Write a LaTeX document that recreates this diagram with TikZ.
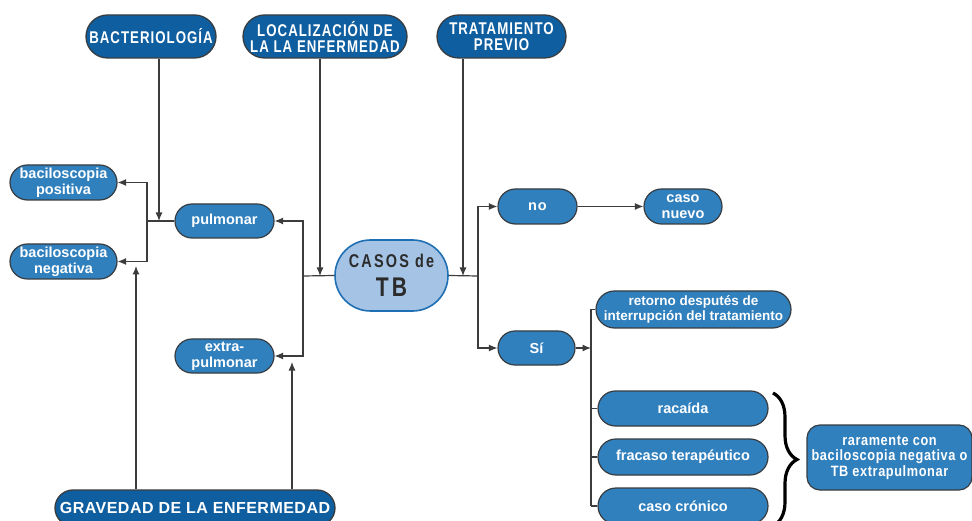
\documentclass[tikz,border=0pt]{standalone}
\usepackage{fontspec}
\setmainfont{Liberation Sans}
\newfontfamily\condf[FakeStretch=0.78,LetterSpace=6]{Liberation Sans}
\newfontfamily\casf[FakeStretch=0.78,LetterSpace=12]{Liberation Sans}
\newfontfamily\widef[LetterSpace=3]{Liberation Sans}
\newfontfamily\medf[FakeStretch=0.85,LetterSpace=4]{Liberation Sans}
\usetikzlibrary{shapes.misc,arrows.meta,decorations.pathreplacing}
\definecolor{dkblue}{RGB}{15,95,160}
\definecolor{mdblue}{RGB}{48,128,190}
\definecolor{ltblue}{RGB}{165,195,228}
\definecolor{casbord}{RGB}{31,111,181}
\definecolor{bord}{RGB}{55,60,65}
\definecolor{lineg}{RGB}{60,60,60}
\definecolor{castext}{RGB}{43,43,43}
\tikzset{
  dk/.style={rounded rectangle, draw=bord, line width=1.3pt, fill=dkblue, text=white,
    inner sep=0pt, align=center, font=\condf\bfseries\fontsize{17}{16}\selectfont},
  md/.style={rounded rectangle, draw=bord, line width=1.2pt, fill=mdblue, text=white,
    inner sep=0pt, align=center, font=\bfseries\fontsize{14.5}{16}\selectfont},
  arr/.style={draw=lineg, line width=1.2pt, -{Latex[length=8.5pt,width=7pt]}},
  ln/.style={draw=lineg, line width=1.2pt},
}
\begin{document}
\begin{tikzpicture}[x=1pt,y=-1pt]
\useasboundingbox[fill=white] (0,0) rectangle (972,521);
% top nodes
\node[dk, minimum width=130pt, minimum height=43pt] (bact) at (151,36.5) {BACTERIOLOGÍA};
\node[dk, minimum width=164pt, minimum height=43pt] (loc) at (325,36.5) {LOCALIZACIÓN DE\\LA LA ENFERMEDAD};
\node[dk, minimum width=129pt, minimum height=43pt] (trat) at (501.5,36.5) {TRATAMIENTO\\PREVIO};
% left nodes
\node[md, minimum width=107pt, minimum height=35pt] (bpos) at (63.5,182.5) {baciloscopia\\positiva};
\node[md, minimum width=107pt, minimum height=35pt] (bneg) at (63.5,261.5) {baciloscopia\\negativa};
\node[md, minimum width=99pt, minimum height=34pt] (pulm) at (224.5,221) {pulmonar};
\node[md, minimum width=99pt, minimum height=34pt] (extra) at (224.5,356) {extra-\\pulmonar};
% center
\node[rounded rectangle, draw=casbord, line width=1.6pt, fill=ltblue, text=castext,
  inner sep=0pt, align=center, minimum width=113pt, minimum height=71pt,
  font=\casf\bfseries\fontsize{18.5}{20}\selectfont] (casos) at (391.5,275.5)
  {CASOS de\\[9pt]{\casf\bfseries\fontsize{27}{24}\selectfont T\kern3pt B}};
% right nodes
\node[md, minimum width=79pt, minimum height=35pt] (no) at (537.5,206.5) {n\kern1pt o};
\node[md, minimum width=78pt, minimum height=35pt] (nuevo) at (683,206.5) {caso\\nuevo};
\node[md, minimum width=77pt, minimum height=34pt] (si) at (536.5,348) {Sí};
\node[md, minimum width=195pt, minimum height=37pt, font=\bfseries\fontsize{13.5}{15}\selectfont] (ret) at (693.5,309.5) {retorno desputés de\\interrupción del tratamiento};
\node[md, minimum width=170pt, minimum height=35pt] (rec) at (683,408.5) {racaída};
\node[md, minimum width=170pt, minimum height=36pt] (frac) at (683,457) {fracaso terapéutico};
\node[md, minimum width=170pt, minimum height=36pt] (cron) at (683,506) {caso crónico};
\node[rectangle, rounded corners=13pt, draw=bord, line width=1.2pt, fill=mdblue, text=white,
  inner sep=0pt, align=center, minimum width=165pt, minimum height=65pt,
  font=\medf\bfseries\fontsize{15}{15.5}\selectfont] (rar) at (889.5,457.5)
  {raramente con\\baciloscopia negativa o\\TB extrapulmonar};
% bottom
\node[rounded rectangle, draw=bord, line width=1.3pt, fill=dkblue, text=white, inner sep=0pt,
  minimum width=280pt, minimum height=36pt, font=\widef\bfseries\fontsize{16}{16}\selectfont]
  (grav) at (195,508) {GRAVEDAD DE LA ENFERMEDAD};
% junction coordinates
\coordinate (jL) at (147,221);
\coordinate (bx) at (159,221);
\coordinate (jC) at (303,276);
\coordinate (lx) at (320,276);
\coordinate (tx) at (463,276);
\coordinate (jR) at (478,276);
\coordinate (sx) at (591,348);
\coordinate (g1) at (136,266);
\coordinate (g2) at (292,362);
\coordinate (bt) at (773,393);
\coordinate (bb) at (773,526);
% connectors left
\draw[ln] (pulm.west) -- (jL);
\draw[arr] (jL) |- (bpos.east);
\draw[arr] (jL) |- (bneg.east);
\draw[arr] (bact.south -| bx) -- (bx);
\draw[arr] (grav.north -| g1) -- (g1);
\draw[arr] (grav.north -| g2) -- (g2);
% center
\draw[ln] (casos.west) -- (jC);
\draw[arr] (jC) |- (pulm.east);
\draw[arr] (jC) |- (extra.east);
\draw[arr] (loc.south -| lx) -- (lx);
\draw[arr] (trat.south -| tx) -- (tx);
\draw[ln] (casos.east) -- (jR);
\draw[arr] (jR) |- (no.west);
\draw[arr] (jR) |- (si.west);
\draw[arr] (no.east) -- (nuevo.west);
\draw[arr] (si.east) -- (sx);
% right tree
\draw[ln] (ret.west -| sx) -- (cron.west -| sx);
\draw[ln] (ret.west -| sx) -- (ret.west);
\draw[ln] (rec.west -| sx) -- (rec.west);
\draw[ln] (frac.west -| sx) -- (frac.west);
\draw[ln] (cron.west -| sx) -- (cron.west);
% brace
\draw[black, line width=3.2pt, decorate, decoration={brace, amplitude=24pt}] (bt) -- (bb);
\end{tikzpicture}
\end{document}
